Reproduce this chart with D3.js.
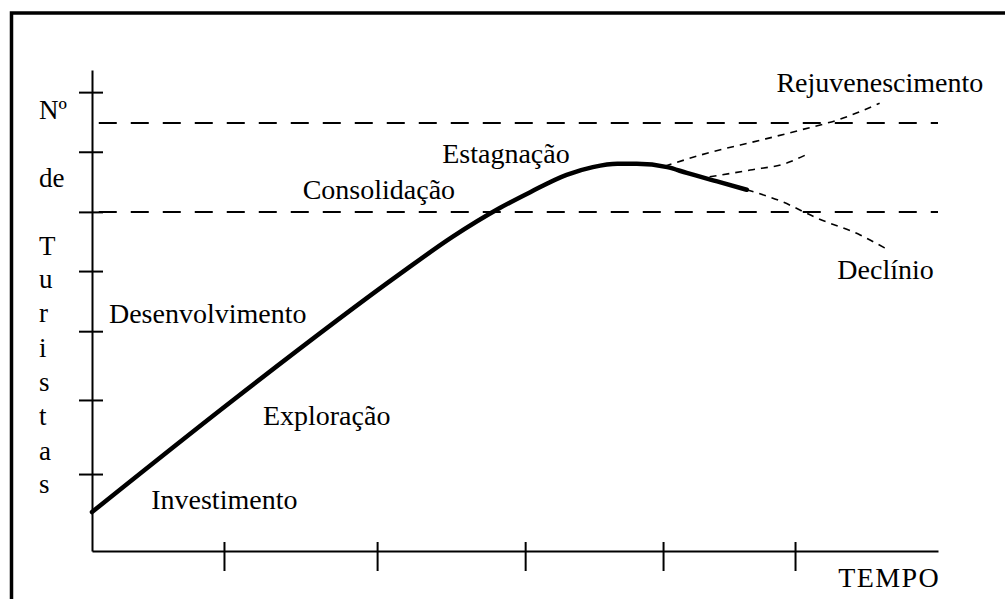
<!DOCTYPE html>
<html>
<head>
<meta charset="utf-8">
<script src="https://cdn.jsdelivr.net/npm/d3@7"></script>
<style>
body { margin: 0; background: #fff; }
text { font-family: "Liberation Serif", "Times New Roman", serif; fill: #000; }
</style>
</head>
<body>
<script>
var width = 1005;
var height = 599;

// curva do ciclo de vida (tempo, nº de turistas), unidades 0-100
var tempo = [0, 16.7, 36.4, 42.6, 48.2, 51.8, 56.1, 59.2, 62.1, 64.4, 68.0, 70.3, 74.2, 77.4]
var turistas = [8.1, 31.4, 57.6, 65.3, 71.3, 74.6, 78.2, 79.8, 80.5, 80.5, 79.8, 78.6, 76.7, 75.1]

// ramos tracejados
var rejuv_t = [67.7, 72.7, 79.0, 83.7, 88.8, 93.1]
var rejuv_v = [80.0, 82.7, 85.4, 87.5, 90.0, 93.1]
var meio_t = [73.0, 77.8, 82.2, 84.3]
var meio_v = [77.8, 79.2, 80.7, 82.3]
var declinio_t = [77.4, 81.6, 85.7, 90.8, 93.7]
var declinio_v = [75.1, 72.6, 69.2, 65.7, 63.0]

// limites de capacidade (linhas tracejadas horizontais)
var limites = [89.0, 70.5]

var x_ticks = [15.6, 33.7, 51.2, 67.5, 83.1]
var y_ticks = [16.0, 31.4, 45.7, 58.2, 70.5, 83.0, 95.4]

var fases = ["Investimento", "Exploração", "Desenvolvimento", "Consolidação", "Estagnação", "Rejuvenescimento", "Declínio", "TEMPO"]
var fases_t = [7.0, 20.2, 2.0, 24.9, 41.4, 80.9, 88.1, 88.2]
var fases_v = [8.7, 26.2, 47.4, 73.2, 80.7, 95.4, 56.5, -7.5]

var y_label = ["Nº", "de", "T", "u", "r", "i", "s", "t", "a", "s"]
var y_label_pos = [119, 187, 255, 288, 322, 357, 391, 425, 460, 493]

var x = d3.scaleLinear()
.domain([0, 100])
.range([92, 938]);

var y = d3.scaleLinear()
.domain([0, 100])
.range([551, 70]);

var svg = d3.select("body").append("svg")
.attr("width", width)
.attr("height", height)

// moldura
svg.append("path")
.attr("d", "M11.5," + (height + 10) + "V13H" + (width + 10))
.attr("fill", "none")
.attr("stroke", "#000")
.attr("stroke-width", 3.5)

// eixos
var xAxis = svg.append("g")
.attr("transform", "translate(0," + y(0) + ")")
.call(d3.axisBottom(x).tickValues(x_ticks).tickSize(20).tickSizeOuter(0).tickFormat(""))
xAxis.selectAll(".tick line").attr("y1", -9)

var yAxis = svg.append("g")
.attr("transform", "translate(" + x(0) + ",0)")
.call(d3.axisLeft(y).tickValues(y_ticks).tickSize(13).tickSizeOuter(0).tickFormat(""))
yAxis.selectAll(".tick line").attr("x1", 11)

svg.selectAll(".domain, .tick line")
.attr("stroke", "#000")
.attr("stroke-width", 2)

// limites
svg.append("g")
.selectAll("line")
.data(limites)
.enter().append("line")
.attr("x1", x(0.8))
.attr("x2", x(100))
.attr("y1", function(d) { return y(d) })
.attr("y2", function(d) { return y(d) })
.attr("stroke", "#000")
.attr("stroke-width", 2)
.style("stroke-dasharray", "18, 14")

var line = d3.line()
.x(function(d) { return x(d[0]) })
.y(function(d) { return y(d[1]) })
.curve(d3.curveMonotoneX)

// ramos
var ramos = [[rejuv_t, rejuv_v], [meio_t, meio_v], [declinio_t, declinio_v]]
svg.append("g")
.selectAll("path")
.data(ramos)
.enter().append("path")
.attr("d", function(d) { return line(d3.zip(d[0], d[1])) })
.attr("fill", "none")
.attr("stroke", "#000")
.attr("stroke-width", 1.6)
.style("stroke-dasharray", "7, 6")

// curva principal
svg.append("path")
.attr("d", line(d3.zip(tempo, turistas)))
.attr("fill", "none")
.attr("stroke", "#000")
.attr("stroke-width", 4.5)
.attr("stroke-linecap", "round")

// fases
svg.append("g")
.selectAll("text")
.data(fases)
.enter().append("text")
.attr("x", function(d, i) { return x(fases_t[i]) })
.attr("y", function(d, i) { return y(fases_v[i]) })
.style("font-size", "28px")
.style("letter-spacing", function(d) { return d == "TEMPO" ? "1.4px" : null })
.text(function(d) { return d })

// rotulo vertical
svg.append("g")
.selectAll("text")
.data(y_label)
.enter().append("text")
.attr("x", 39)
.attr("y", function(d, i) { return y_label_pos[i] })
.style("font-size", "27px")
.text(function(d) { return d })
</script>
</body>
</html>
